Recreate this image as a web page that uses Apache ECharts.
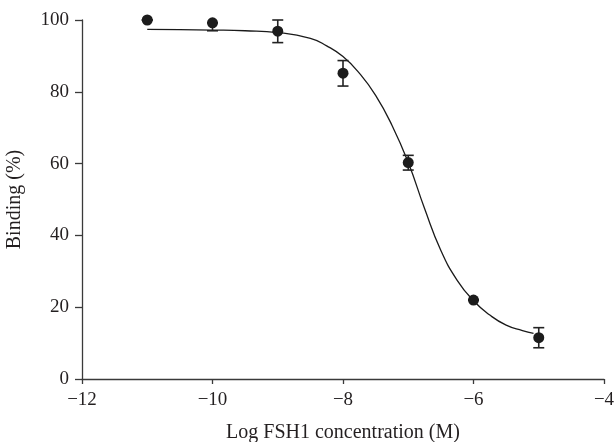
<!DOCTYPE html>
<html>
<head>
<meta charset="utf-8">
<script src="https://cdn.jsdelivr.net/npm/echarts@6/dist/echarts.min.js"></script>
<style>
  html, body { margin: 0; padding: 0; background: #fff; }
  #mainChart { width: 616px; height: 442px; }
</style>
</head>
<body>
<div id="mainChart"></div>
<script>
'use strict'
// measured points (log M, binding %)
var logConc = [-11, -10, -9, -8, -7, -6, -5];
var binding = [100, 99.2, 96.9, 85.2, 60.3, 22.0, 11.5];
var errLow  = [100, 97.0, 93.7, 81.6, 58.2, 22.0, 8.7];
var errHigh = [100, 99.2, 100, 88.7, 62.3, 22.0, 14.3];

// fitted curve
var curveX = [-11, -10.5, -10, -9.5, -9, -8.5, -8.25, -8, -7.75, -7.5, -7.25, -7, -6.75, -6.5, -6.25, -6, -5.75, -5.5, -5.25, -5.08];
var curveY = [97.4, 97.3, 97.2, 97.0, 96.5, 94.9, 92.8, 89.8, 85.2, 79.0, 70.7, 60.3, 47.5, 35.8, 27.5, 21.8, 17.8, 15.0, 13.5, 12.7];

var fontFam = '"Liberation Serif", "DejaVu Serif", serif';
var textColor = '#231f20';
var axisColor = '#3a3a3a';

function minus(v) {
    return String(v).replace('-', '\u2212');
}

var pts = logConc.map(function (x, i) { return [x, binding[i]]; });
var bars = logConc.map(function (x, i) { return [x, errLow[i], errHigh[i]]; });
var curve = curveX.map(function (x, i) { return [x, curveY[i]]; });

var myChart = echarts.init(document.getElementById('mainChart'));
myChart.setOption({
    animation: false,
    grid: { left: 82, right: 12, top: 20, bottom: 63, containLabel: false, outerBoundsMode: 'none' },
    xAxis: {
        type: 'value',
        min: -12, max: -4, interval: 2,
        name: 'Log FSH1 concentration (M)',
        nameLocation: 'middle',
        nameGap: 44,
        nameTextStyle: { fontFamily: fontFam, fontSize: 20, color: textColor },
        axisLine: { show: true, onZero: false, lineStyle: { color: axisColor, width: 1.3 } },
        axisTick: { show: true, length: 5, lineStyle: { color: axisColor, width: 1.3 } },
        axisLabel: { fontFamily: fontFam, fontSize: 19, color: textColor, margin: 12, formatter: minus },
        splitLine: { show: false }
    },
    yAxis: {
        type: 'value',
        min: 0, max: 100, interval: 20,
        name: 'Binding (%)',
        nameLocation: 'middle',
        nameGap: 57,
        nameTextStyle: { fontFamily: fontFam, fontSize: 20, color: textColor },
        axisLine: { show: true, lineStyle: { color: axisColor, width: 1.3 } },
        axisTick: { show: true, length: 7, lineStyle: { color: axisColor, width: 1.3 } },
        axisLabel: { fontFamily: fontFam, fontSize: 19, color: textColor, margin: 13 },
        splitLine: { show: false }
    },
    series: [
        {
            type: 'line',
            data: curve,
            smooth: true,
            showSymbol: false,
            lineStyle: { color: '#1a1a1a', width: 1.3 },
            z: 2
        },
        {
            type: 'custom',
            data: bars,
            renderItem: function (params, api) {
                var x = api.value(0);
                var lo = api.coord([x, api.value(1)]);
                var hi = api.coord([x, api.value(2)]);
                var hw = 5.5;
                var st = { stroke: '#222', lineWidth: 1.6 };
                return {
                    type: 'group',
                    children: [
                        { type: 'line', shape: { x1: lo[0], y1: lo[1], x2: hi[0], y2: hi[1] }, style: st },
                        { type: 'line', shape: { x1: lo[0] - hw, y1: lo[1], x2: lo[0] + hw, y2: lo[1] }, style: st },
                        { type: 'line', shape: { x1: hi[0] - hw, y1: hi[1], x2: hi[0] + hw, y2: hi[1] }, style: st }
                    ]
                };
            },
            z: 3
        },
        {
            type: 'scatter',
            data: pts,
            symbol: 'circle',
            symbolSize: 11,
            itemStyle: { color: '#1c1c1c', opacity: 1 },
            z: 4
        }
    ]
});
</script>
</body>
</html>
